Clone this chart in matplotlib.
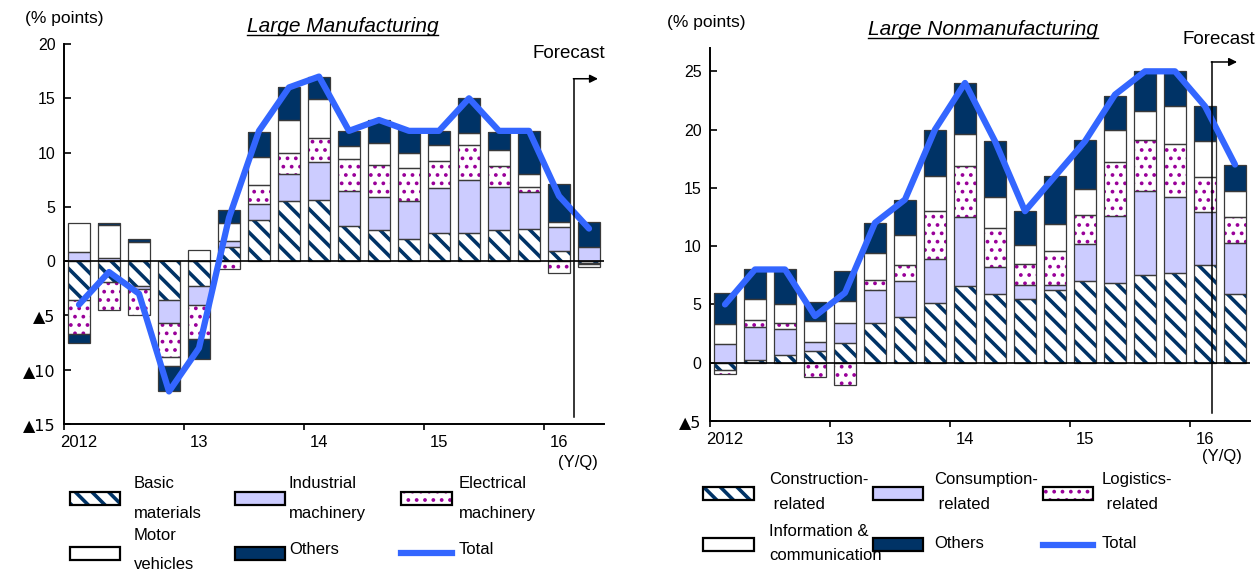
import matplotlib
matplotlib.use('Agg')
import matplotlib.pyplot as plt
import numpy as np
from matplotlib import font_manager
from matplotlib.patches import Rectangle
from matplotlib.lines import Line2D

# ---- data (contributions, % points) ----
year_labels = ['2012', '13', '14', '15', '16']

mfg_labels = ['Basic\nmaterials', 'Industrial\nmachinery', 'Electrical\nmachinery',
              'Motor\nvehicles', 'Others']
mfg_basic = [-3.6, -1.9, -2.3, -3.6, -2.3, 1.3, 3.8, 5.5, 5.6, 3.2, 2.9, 2.0, 2.6, 2.6, 2.9, 3.0, 0.95, -0.2]
mfg_industrial = [0.8, 0.3, -0.3, -2.1, -1.7, 0.6, 1.5, 2.5, 3.5, 3.3, 3.0, 3.5, 4.1, 4.9, 3.9, 3.4, 2.2, 1.3]
mfg_electrical = [-3.1, -2.6, -2.4, -3.1, -3.2, -0.7, 1.7, 2.0, 2.2, 2.9, 3.0, 3.1, 2.5, 3.2, 2.0, 0.4, -1.1, -0.1]
mfg_motor = [2.7, 3.0, 1.8, -0.9, 1.0, 1.6, 2.6, 3.0, 3.6, 1.2, 2.0, 1.4, 1.5, 1.1, 1.4, 1.2, 0.5, -0.2]
mfg_others = [-0.8, 0.2, 0.2, -2.3, -1.8, 1.2, 2.3, 3.0, 2.1, 1.4, 2.1, 2.1, 1.3, 3.2, 1.7, 4.0, 3.5, 2.3]
mfg_total = [-4, -1, -3, -12, -8, 4, 12, 16, 17, 12, 13, 12, 12, 15, 12, 12, 6, 3]

non_labels = ['Construction-\n related', 'Consumption-\n related', 'Logistics-\n related',
              'Information &\ncommunication', 'Others']
non_construction = [-0.6, 0.2, 0.7, 1.0, 1.7, 3.4, 3.9, 5.1, 6.6, 5.9, 5.5, 6.2, 7.0, 6.8, 7.5, 7.7, 8.4, 5.9]
non_consumption = [1.6, 2.9, 2.2, 0.8, 1.7, 2.8, 3.1, 3.8, 5.9, 2.3, 1.2, 0.5, 3.2, 5.8, 7.2, 6.5, 4.5, 4.4]
non_logistics = [-0.4, 0.6, 0.5, -1.2, -1.9, 0.9, 1.4, 4.1, 4.4, 3.4, 1.8, 2.9, 2.5, 4.6, 4.4, 4.6, 3.0, 2.2]
non_info = [1.7, 1.8, 1.6, 1.8, 1.9, 2.3, 2.6, 3.0, 2.7, 2.6, 1.6, 2.3, 2.2, 2.8, 2.5, 3.2, 3.1, 2.2]
non_others = [2.7, 2.5, 3.0, 1.6, 2.6, 2.6, 3.0, 4.0, 4.4, 4.8, 2.9, 4.1, 4.2, 2.9, 3.4, 3.0, 3.0, 2.3]
non_total = [5, 8, 8, 4, 6, 12, 14, 20, 24, 19, 13, 16, 19, 23, 25, 25, 22, 17]

# ---- styles ----
NAVY = '#003366'
LAVENDER = '#CCCCFF'
PURPLE = '#990099'
BLUE = '#3366FF'
EDGE = '#3a3a3a'
BAR_W = 0.76

names = {f.name for f in font_manager.fontManager.ttflist}
NARROW = 'Liberation Sans Narrow' if 'Liberation Sans Narrow' in names else 'Liberation Sans'
LEG_SIZE = 13.5 if NARROW == 'Liberation Sans Narrow' else 12

plt.rcParams['font.family'] = ['Liberation Sans', 'DejaVu Sans']

styles = [
    dict(face='white', hcolor=NAVY, hatch='\\\\', hlw=2.6),
    dict(face=LAVENDER),
    dict(face='white', hcolor=PURPLE, hatch='..', hlw=1.5),
    dict(face='white'),
    dict(face=NAVY),
]

W, H = 1256, 572
fig = plt.figure(figsize=(W / 100, H / 100), dpi=100)


def fx(px):
    return px / W


def fy(py):
    return 1 - py / H


def make_bars(ax, x, h, bottom, st):
    if st.get('hatch'):
        with plt.rc_context({'hatch.linewidth': st['hlw']}):
            bars = ax.bar(x, h, BAR_W, bottom=bottom, color=st['face'], edgecolor=st['hcolor'],
                          hatch=st['hatch'], linewidth=0, zorder=2)
        for b in bars:
            if hasattr(b, 'set_hatch_linewidth'):
                b.set_hatch_linewidth(st['hlw'])
    else:
        ax.bar(x, h, BAR_W, bottom=bottom, color=st['face'], linewidth=0, zorder=2)
    ax.bar(x, h, BAR_W, bottom=bottom, fill=False, edgecolor=EDGE, linewidth=0.9, zorder=3)


def draw_panel(ax, series, total, ylim, yticks):
    x = np.arange(len(total))
    pos = np.zeros(len(x))
    neg = np.zeros(len(x))
    for vals, st in zip(series, styles):
        v = np.asarray(vals, float)
        bottom = np.where(v >= 0, pos, neg)
        make_bars(ax, x, v, bottom, st)
        pos += np.clip(v, 0, None)
        neg += np.clip(v, None, 0)
    ax.plot(x, total, color=BLUE, lw=4.5, solid_joinstyle='round', solid_capstyle='round', zorder=5)
    ax.axhline(0, color='black', lw=1.2, zorder=4)

    ax.set_xlim(-0.5, len(x) - 0.5)
    ax.set_ylim(*ylim)
    ax.set_yticks(yticks)
    ax.set_yticklabels([('▲%d' % -t) if t < 0 else '%d' % t for t in yticks])
    for lab in ax.get_yticklabels():
        if lab.get_text().startswith('▲'):
            lab.set_fontfamily(['DejaVu Sans'])
    ax.tick_params(axis='y', direction='in', length=5, width=1.2, labelsize=11.5, pad=6)
    ax.set_xticks(np.arange(-0.5, len(x), 4))
    ax.set_xticklabels([])
    ax.set_xticks(np.arange(0, len(x), 4), minor=True)
    ax.set_xticklabels(year_labels, minor=True)
    ax.tick_params(axis='x', which='major', direction='out', length=4, width=1.2)
    ax.tick_params(axis='x', which='minor', length=0, labelsize=12, pad=8)
    for s in ['top', 'right']:
        ax.spines[s].set_visible(False)
    for s in ['left', 'bottom']:
        ax.spines[s].set_linewidth(1.4)


def forecast(ax, xv, ytop, ybot, xtip):
    ax.plot([xv, xv], [ybot, ytop], color='black', lw=1.1, clip_on=False, zorder=6)
    ax.annotate('', xy=(xtip, ytop), xytext=(xv - 0.02, ytop), annotation_clip=False,
                arrowprops=dict(arrowstyle='-|>', color='black', lw=1.1, mutation_scale=12,
                                shrinkA=0, shrinkB=0))


def legend(items, col_x, text_x, rows_y, ls, text_dy=(-1, -1)):
    for i, (label, st) in enumerate(items):
        r, c = divmod(i, 3)
        x0, x1 = col_x[c]
        yc = rows_y[r]
        if st == 'line':
            fig.add_artist(Line2D([fx(x0), fx(x1)], [fy(yc), fy(yc)], color=BLUE, lw=4.5))
        else:
            kw = dict(facecolor=st['face'], edgecolor='black', linewidth=1.6)
            if st.get('hatch'):
                with plt.rc_context({'hatch.linewidth': st['hlw'], 'hatch.color': st['hcolor']}):
                    rect = Rectangle((fx(x0), fy(yc + 6.5)), fx(x1 - x0), 13 / H, hatch=st['hatch'],
                                     transform=fig.transFigure, **kw)
                if hasattr(rect, 'set_hatch_linewidth'):
                    rect.set_hatch_linewidth(st['hlw'])
                rect._hatch_color = matplotlib.colors.to_rgba(st['hcolor'])
            else:
                rect = Rectangle((fx(x0), fy(yc + 6.5)), fx(x1 - x0), 13 / H,
                                 transform=fig.transFigure, **kw)
            fig.add_artist(rect)
        fig.text(fx(text_x[c]), fy(yc + text_dy[r]), label, ha='left', va='center', family=NARROW,
                 size=LEG_SIZE, linespacing=ls)


# ---- left panel: manufacturing ----
ax1 = fig.add_axes([fx(64), fy(424), fx(604 - 64), (424 - 44) / H])
draw_panel(ax1, [mfg_basic, mfg_industrial, mfg_electrical, mfg_motor, mfg_others], mfg_total,
           (-15, 20), list(range(-15, 21, 5)))
forecast(ax1, 16.5, 16.8, -14.4, 17.3)

# ---- right panel: nonmanufacturing ----
ax2 = fig.add_axes([fx(710), fy(421), fx(1250 - 710), (421 - 48) / H])
draw_panel(ax2, [non_construction, non_consumption, non_logistics, non_info, non_others], non_total,
           (-5, 27), list(range(-5, 26, 5)))
forecast(ax2, 16.23, 25.8, -4.3, 17.07)

# ---- texts ----
fig.text(fx(64), fy(18), '(% points)', ha='center', va='center', size=12.5)
fig.text(fx(706), fy(22), '(% points)', ha='center', va='center', size=12.5)
fig.text(fx(578), fy(462), '(Y/Q)', ha='center', va='center', size=12)
fig.text(fx(1222), fy(457), '(Y/Q)', ha='center', va='center', size=12)
fig.text(fx(569), fy(54), 'Forecast', ha='center', va='center', size=13.5)
fig.text(fx(1183), fy(39), 'Forecast', ha='left', va='center', size=13.5)

t1 = fig.text(fx(342.5), fy(32), 'Large Manufacturing', ha='center', va='baseline', size=15, style='italic')
t2 = fig.text(fx(983), fy(35), 'Large Nonmanufacturing', ha='center', va='baseline', size=15, style='italic')

# ---- legends ----
legend(list(zip(mfg_labels, styles)) + [('Total', 'line')],
       [(70, 120), (235, 285), (401, 452)], [134, 289, 459], [498.5, 553], 2.2, text_dy=(0, -3))
legend(list(zip(non_labels, styles)) + [('Total', 'line')],
       [(703, 754), (873, 923), (1043, 1093)], [769, 934, 1102], [493, 544.5], 1.82)

# underline the titles
fig.canvas.draw()
renderer = fig.canvas.get_renderer()
for t, base in [(t1, 32), (t2, 35)]:
    bb = t.get_window_extent(renderer)
    fig.add_artist(Line2D([bb.x0 / W, bb.x1 / W], [fy(base + 2.5)] * 2, color='black', lw=1.0))

fig.savefig('out.png', dpi=100)
